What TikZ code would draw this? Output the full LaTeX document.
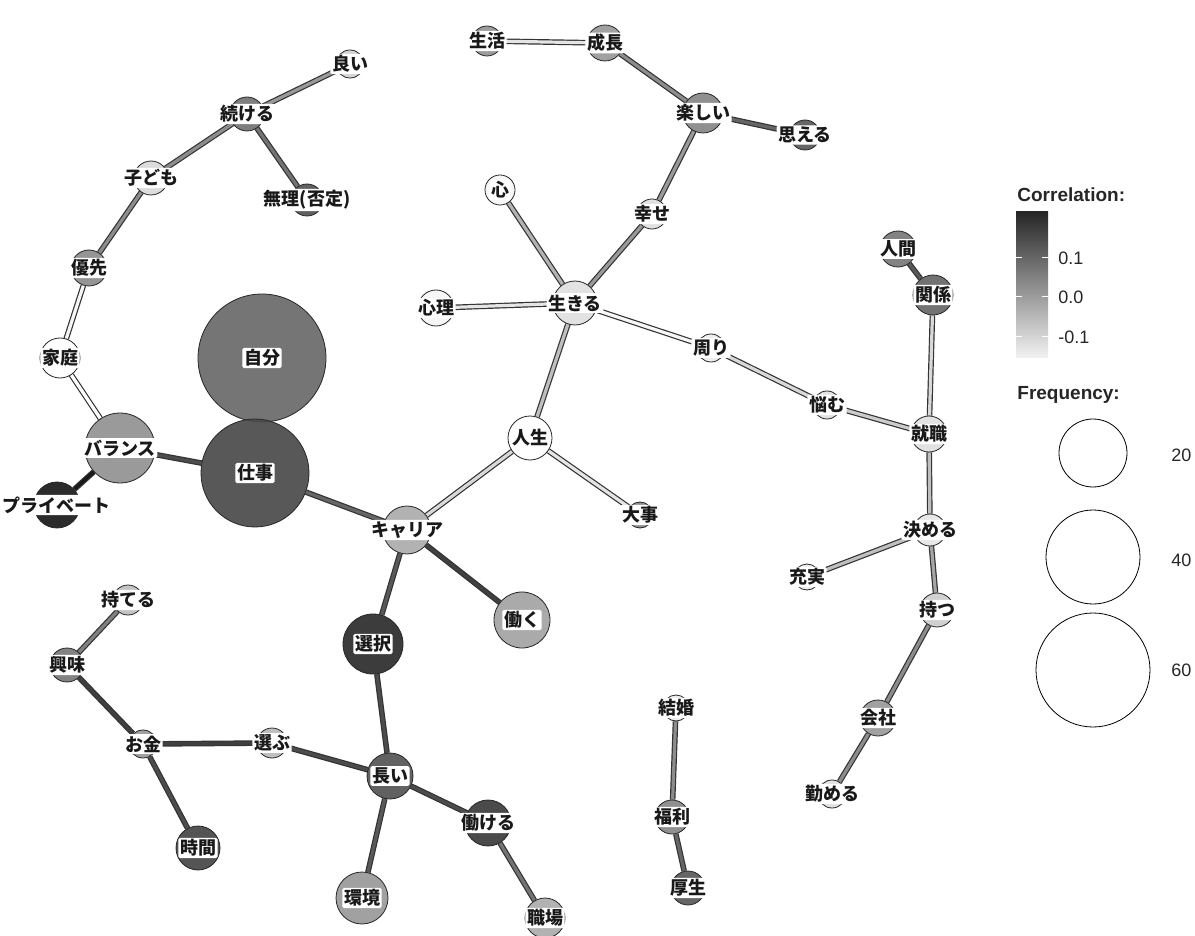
\documentclass[tikz,border=0pt]{standalone}
\usepackage{fontspec}
\newfontfamily\jpfont{Noto Sans CJK JP}
\newfontfamily\lgfont{Liberation Sans}
\usetikzlibrary{positioning}
\pgfdeclarelayer{background}
\pgfsetlayers{background,main}

\begin{document}
\begin{tikzpicture}[x=0.5pt,y=-0.5pt,
word/.style ={circle, draw=black!85, line width=0.4pt, inner sep=0pt, fill opacity=0.92},
tag/.style ={fill=white, rounded corners=0.8pt, inner sep=0.8pt, text=black!90,
font=\jpfont\bfseries\fontsize{9}{10}\selectfont},
link/.style ={draw=black!80, line width=0.6pt, double=#1, double distance=1.6pt},
legend/.style ={font=\lgfont\fontsize{9}{10}\selectfont, text=black!85, inner sep=0pt},
ltitle/.style ={legend, font=\lgfont\bfseries\fontsize{9.5}{11}\selectfont}]
\useasboundingbox (0,0) rectangle (1195,936);

% left cluster
\node[word, minimum size=14pt, fill=black!18] (yoi) at (350,64) {};
\node[tag] (yoi-t) at (yoi) {良い};
\node[word, minimum size=17pt, fill=black!55] (tsuzukeru) at (247,114) {};
\node[tag] (tsuzukeru-t) at (tsuzukeru) {続ける};
\node[word, minimum size=17pt, fill=black!15] (kodomo) at (151,178) {};
\node[tag] (kodomo-t) at (kodomo) {子ども};
\node[word, minimum size=16pt, fill=black!67] (muri) at (307,200) {};
\node[tag] (muri-t) at (muri) {無理(否定)};
\node[word, minimum size=18pt, fill=black!45] (yusen) at (89,268) {};
\node[tag] (yusen-t) at (yusen) {優先};
\node[word, minimum size=20pt, fill=white] (katei) at (60,358) {};
\node[tag] (katei-t) at (katei) {家庭};
\node[word, minimum size=35pt, fill=black!43] (balance) at (120,448) {};
\node[tag] (balance-t) at (balance) {バランス};
\node[word, minimum size=23pt, fill=black!90] (private) at (57,505) {};
\node[tag] (private-t) at (private) {プライベート};
\node[word, minimum size=64pt, fill=black!59] (jibun) at (262,358) {};
\node[tag] (jibun-t) at (jibun) {自分};
\node[word, minimum size=54pt, fill=black!71] (shigoto) at (255,473) {};
\node[tag] (shigoto-t) at (shigoto) {仕事};

% career and below
\node[word, minimum size=24pt, fill=black!33] (career) at (407,530) {};
\node[tag] (career-t) at (career) {キャリア};
\node[word, minimum size=28pt, fill=black!36] (hataraku) at (522,620) {};
\node[tag] (hataraku-t) at (hataraku) {働く};
\node[word, minimum size=30pt, fill=black!83] (sentaku) at (373,644) {};
\node[tag] (sentaku-t) at (sentaku) {選択};
\node[word, minimum size=23pt, fill=black!67] (nagai) at (390,776) {};
\node[tag] (nagai-t) at (nagai) {長い};
\node[word, minimum size=23pt, fill=black!77] (hatarakeru) at (488,823) {};
\node[tag] (hatarakeru-t) at (hatarakeru) {働ける};
\node[word, minimum size=20pt, fill=black!33] (shokuba) at (545,918) {};
\node[tag] (shokuba-t) at (shokuba) {職場};
\node[word, minimum size=26pt, fill=black!40] (kankyo) at (362,898) {};
\node[tag] (kankyo-t) at (kankyo) {環境};
\node[word, minimum size=15pt, fill=black!27] (erabu) at (272,743) {};
\node[tag] (erabu-t) at (erabu) {選ぶ};
\node[word, minimum size=14pt, fill=black!40] (okane) at (143,744) {};
\node[tag] (okane-t) at (okane) {お金};
\node[word, minimum size=17pt, fill=black!53] (kyomi) at (67,665) {};
\node[tag] (kyomi-t) at (kyomi) {興味};
\node[word, minimum size=15pt, fill=black!25] (moteru) at (128,600) {};
\node[tag] (moteru-t) at (moteru) {持てる};
\node[word, minimum size=22pt, fill=black!73] (jikan) at (198,848) {};
\node[tag] (jikan-t) at (jikan) {時間};

% middle cluster
\node[word, minimum size=22pt, fill=white] (jinsei) at (530,438) {};
\node[tag] (jinsei-t) at (jinsei) {人生};
\node[word, minimum size=13pt, fill=black!47] (daiji) at (640,515) {};
\node[tag] (daiji-t) at (daiji) {大事};
\node[word, minimum size=22pt, fill=black!12] (ikiru) at (575,303) {};
\node[tag] (ikiru-t) at (ikiru) {生きる};
\node[word, minimum size=18pt, fill=black!4] (shinri) at (436,308) {};
\node[tag] (shinri-t) at (shinri) {心理};
\node[word, minimum size=15pt, fill=black!4] (kokoro) at (500,190) {};
\node[tag] (kokoro-t) at (kokoro) {心};
\node[word, minimum size=15pt, fill=black!13] (shiawase) at (652,214) {};
\node[tag] (shiawase-t) at (shiawase) {幸せ};
\node[word, minimum size=20pt, fill=black!47] (tanoshii) at (703,113) {};
\node[tag] (tanoshii-t) at (tanoshii) {楽しい};
\node[word, minimum size=15pt, fill=black!65] (omoeru) at (805,135) {};
\node[tag] (omoeru-t) at (omoeru) {思える};
\node[word, minimum size=18pt, fill=black!40] (seicho) at (605,43) {};
\node[tag] (seicho-t) at (seicho) {成長};
\node[word, minimum size=15pt, fill=black!42] (seikatsu) at (487,41) {};
\node[tag] (seikatsu-t) at (seikatsu) {生活};
\node[word, minimum size=14pt, fill=black!7] (mawari) at (711,348) {};
\node[tag] (mawari-t) at (mawari) {周り};
\node[word, minimum size=14pt, fill=black!12] (nayamu) at (827,405) {};
\node[tag] (nayamu-t) at (nayamu) {悩む};

% right cluster
\node[word, minimum size=18pt, fill=black!12] (shushoku) at (929,434) {};
\node[tag] (shushoku-t) at (shushoku) {就職};
\node[word, minimum size=18pt, fill=black!53] (ningen) at (898,249) {};
\node[tag] (ningen-t) at (ningen) {人間};
\node[word, minimum size=20pt, fill=black!60] (kankei) at (933,295) {};
\node[tag] (kankei-t) at (kankei) {関係};
\node[word, minimum size=16pt, fill=black!10] (kimeru) at (930,530) {};
\node[tag] (kimeru-t) at (kimeru) {決める};
\node[word, minimum size=13pt, fill=black!8] (jujitsu) at (807,577) {};
\node[tag] (jujitsu-t) at (jujitsu) {充実};
\node[word, minimum size=17pt, fill=black!20] (motsu) at (937,610) {};
\node[tag] (motsu-t) at (motsu) {持つ};
\node[word, minimum size=18pt, fill=black!40] (kaisha) at (878,718) {};
\node[tag] (kaisha-t) at (kaisha) {会社};
\node[word, minimum size=14pt, fill=black!13] (tsutomeru) at (832,794) {};
\node[tag] (tsutomeru-t) at (tsutomeru) {勤める};
\node[word, minimum size=13pt, fill=black!8] (kekkon) at (676,708) {};
\node[tag] (kekkon-t) at (kekkon) {結婚};
\node[word, minimum size=17pt, fill=black!47] (fukuri) at (672,817) {};
\node[tag] (fukuri-t) at (fukuri) {福利};
\node[word, minimum size=17pt, fill=black!65] (kosei) at (688,888) {};
\node[tag] (kosei-t) at (kosei) {厚生};

\begin{pgfonlayer}{background}
\draw (yoi) edge[link=black!40] (tsuzukeru);
\draw (tsuzukeru) edge[link=black!45] (kodomo);
\draw (tsuzukeru) edge[link=black!55] (muri);
\draw (kodomo) edge[link=black!45] (yusen);
\draw (yusen) edge[link=black!4] (katei);
\draw (katei) edge[link=white] (balance);
\draw (balance) edge[link=black!90] (private);
\draw (balance) edge[link=black!70] (shigoto);
\draw (shigoto) edge[link=black!60] (career);

\draw (career) edge[link=black!15] (jinsei);
\draw (career) edge[link=black!75] (hataraku);
\draw (career) edge[link=black!65] (sentaku);
\draw (sentaku) edge[link=black!70] (nagai);
\draw (nagai) edge[link=black!70] (erabu);
\draw (erabu) edge[link=black!75] (okane);
\draw (okane) edge[link=black!75] (kyomi);
\draw (kyomi) edge[link=black!50] (moteru);
\draw (okane) edge[link=black!70] (jikan);
\draw (nagai) edge[link=black!70] (hatarakeru);
\draw (hatarakeru) edge[link=black!55] (shokuba);
\draw (nagai) edge[link=black!65] (kankyo);

\draw (jinsei) edge[link=black!10] (daiji);
\draw (jinsei) edge[link=black!25] (ikiru);
\draw (ikiru) edge[link=black!30] (kokoro);
\draw (ikiru) edge[link=black!10] (shinri);
\draw (ikiru) edge[link=black!40] (shiawase);
\draw (shiawase) edge[link=black!40] (tanoshii);
\draw (tanoshii) edge[link=black!60] (omoeru);
\draw (tanoshii) edge[link=black!45] (seicho);
\draw (seicho) edge[link=black!10] (seikatsu);
\draw (ikiru) edge[link=black!3] (mawari);
\draw (mawari) edge[link=black!15] (nayamu);
\draw (nayamu) edge[link=black!20] (shushoku);

\draw (shushoku) edge[link=black!15] (kankei);
\draw (kankei) edge[link=black!65] (ningen);
\draw (shushoku) edge[link=black!25] (kimeru);
\draw (kimeru) edge[link=black!25] (jujitsu);
\draw (kimeru) edge[link=black!35] (motsu);
\draw (motsu) edge[link=black!45] (kaisha);
\draw (kaisha) edge[link=black!45] (tsutomeru);
\draw (kekkon) edge[link=black!45] (fukuri);
\draw (fukuri) edge[link=black!60] (kosei);
\end{pgfonlayer}

% legend
\node[ltitle, anchor=west] (corr) at (1017,195) {Correlation:};
\shade[top color=black!85, bottom color=black!5] (1016,212) rectangle (1048,358);
\foreach \ty/\tv in {258/0.1, 297/0.0, 337/-0.1}{
  \draw[white, line width=0.5pt] (1016,\ty) -- (1022,\ty) (1042,\ty) -- (1048,\ty);
  \node[legend, anchor=west] at (1058,\ty) {\tv};
}
\node[ltitle, anchor=west] (freq) at (1017,395) {Frequency:};
\node[circle, draw, line width=0.4pt, minimum size=34pt] (f20) at (1093,453) {};
\node[circle, draw, line width=0.4pt, minimum size=47pt] (f40) at (1093,557) {};
\node[circle, draw, line width=0.4pt, minimum size=57pt] (f60) at (1093,670) {};
\node[legend, anchor=west] (f20-t) at (1171,455) {20};
\node[legend, anchor=west] (f40-t) at (1171,560) {40};
\node[legend, anchor=west] (f60-t) at (1171,670) {60};
\end{tikzpicture}
\end{document}
